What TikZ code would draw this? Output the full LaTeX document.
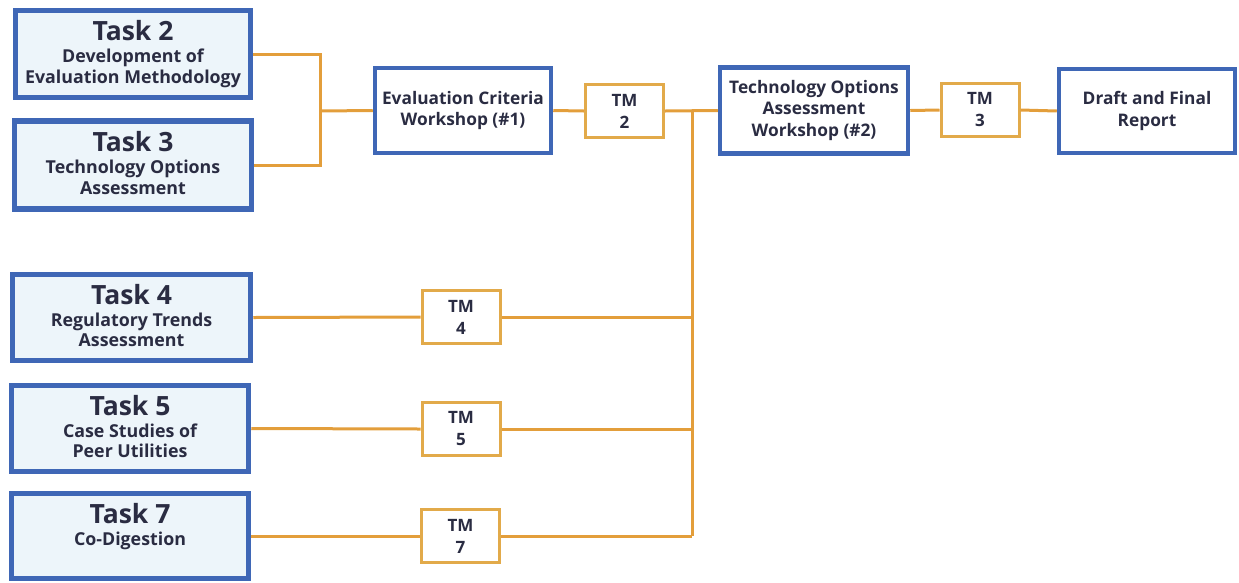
\documentclass[tikz,border=0pt]{standalone}
\usepackage{fontspec}
\setmainfont{Open Sans}
\usetikzlibrary{calc}
\definecolor{boxblue}{HTML}{3F67B6}
\definecolor{taskfill}{HTML}{EDF5FA}
\definecolor{linkorange}{HTML}{E39E3B}
\definecolor{tmgold}{HTML}{E2AA4A}
\definecolor{ink}{HTML}{2A2C42}
\tikzset{
  task/.style={draw=boxblue, line width=5.5pt, fill=taskfill, align=center,
    text=ink, inner sep=0pt, font=\bfseries\fontsize{17.8}{20.5}\selectfont},
  stage/.style={draw=boxblue, line width=4.5pt, fill=white, align=center,
    text=ink, inner sep=0pt, font=\bfseries\fontsize{17.3}{21.5}\selectfont},
  tm/.style={draw=tmgold, line width=3pt, fill=white, align=center,
    text=ink, inner sep=0pt, minimum width=78pt, minimum height=53pt,
    font=\bfseries\fontsize{17}{22}\selectfont},
  link/.style={draw=linkorange, line width=3pt},
}
\newcommand{\tasktitle}[1]{{\fontsize{26.5}{26.5}\selectfont #1}\\[1.5pt]}
\begin{document}
\begin{tikzpicture}[x=1pt, y=-1pt]
\useasboundingbox (0,0) rectangle (1239,582);

% task boxes on the left
\node[task, minimum width=235pt, minimum height=87pt] (t2) at (133,54)
  {\tasktitle{Task 2}Development of\\Evaluation Methodology};
\node[task, minimum width=237pt, minimum height=88pt] (t3) at (133,165)
  {\tasktitle{Task 3}Technology Options\\Assessment\rule[-4pt]{0pt}{0pt}};
\node[task, minimum width=238pt, minimum height=86pt] (t4) at (131.5,317.5)
  {\tasktitle{Task 4}Regulatory Trends\\Assessment\rule[-4pt]{0pt}{0pt}};
\node[task, minimum width=237pt, minimum height=86pt] (t5) at (130,428.5)
  {\tasktitle{Task 5}Case Studies of\\Peer Utilities\rule[-4pt]{0pt}{0pt}};
\node[task, minimum width=237pt, minimum height=85pt] (t7) at (130,536)
  {\tasktitle{Task 7}Co-Digestion\rule[-24pt]{0pt}{0pt}};

% workshops and report along the top
\node[stage, minimum width=176pt, minimum height=85pt] (eval) at (463,110.5)
  {Evaluation Criteria\\Workshop (\#1)};
\node[stage, minimum width=188pt, minimum height=86pt] (tech) at (814,110.5)
  {Technology Options\\Assessment\\Workshop (\#2)};
\node[stage, minimum width=176pt, minimum height=84pt] (draft) at (1147,111)
  {Draft and Final\\Report};

% technical memoranda
\node[tm] (tm2) at (624.5,111) {TM\\2};
\node[tm] (tm3) at (980,110) {TM\\3};
\node[tm] (tm4) at (461,317) {TM\\4};
\node[tm] (tm5) at (461,429) {TM\\5};
\node[tm] (tm7) at (460.5,536) {TM\\7};

% junction points
\coordinate (j1) at (320,111);
\coordinate (j2) at (692,111);
\coordinate (j3) at ($(j2 |- tm7.east)$);

% connectors
\draw[link] (t2.east) -| (j1);
\draw[link] (t3.east) -| (j1);
\draw[link] (j1) -- (eval.west);
\draw[link] (eval.east) -- (tm2.west);
\draw[link] (tm2.east) -- (tech.west);
\draw[link] (tech.east) -- (tm3.west);
\draw[link] (tm3.east) -- (draft.west);
\draw[link] (j2) -- (j3);
\draw[link] (t4.east) -- (tm4.west);
\draw[link] (tm4.east) -- (tm4.east -| j2);
\draw[link] (t5.east) -- (tm5.west);
\draw[link] (tm5.east) -- (tm5.east -| j2);
\draw[link] (t7.east) -- (tm7.west);
\draw[link] (tm7.east) -- (j3);
\end{tikzpicture}
\end{document}
